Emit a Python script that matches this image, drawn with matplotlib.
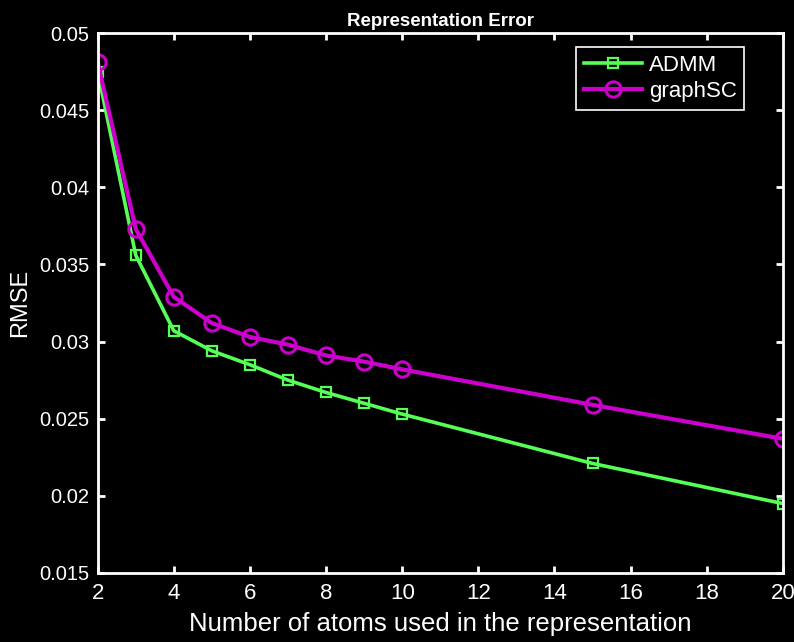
import numpy as np
import matplotlib
matplotlib.use('Agg')
import matplotlib.pyplot as plt

# values
atoms = [2, 3, 4, 5, 6, 7, 8, 9, 10, 15, 20]
rmse_admm = [0.0475, 0.0356, 0.0307, 0.0294, 0.0285, 0.0275, 0.0267, 0.0260, 0.0253, 0.0221, 0.0195]
rmse_graphsc = [0.0481, 0.0373, 0.0329, 0.0312, 0.0303, 0.0298, 0.0291, 0.0287, 0.0282, 0.0259, 0.0237]
x_ticks = [2, 4, 6, 8, 10, 12, 14, 16, 18, 20]
y_ticks = [0.015, 0.02, 0.025, 0.03, 0.035, 0.04, 0.045, 0.05]
y_labels = ['0.015', '0.02', '0.025', '0.03', '0.035', '0.04', '0.045', '0.05']

plt.rcParams['font.family'] = ['Liberation Sans', 'DejaVu Sans']

fig = plt.figure(figsize=(7.94, 6.42), dpi=100, facecolor='black')
ax = fig.add_axes([0.123, 0.1075, 0.863, 0.841])
ax.set_facecolor('black')

ax.plot(atoms, rmse_admm, color='#55ff55', lw=2.6, marker='s', ms=7,
        mfc='none', mew=1.6, label='ADMM')
ax.plot(atoms, rmse_graphsc, color='#cc00cc', lw=3.0, marker='o', ms=11,
        mfc='none', mew=2.2, label='graphSC')

ax.set_xlim(2, 20)
ax.set_ylim(0.015, 0.05)
ax.set_xticks(x_ticks)
ax.set_yticks(y_ticks)
ax.set_yticklabels(y_labels)

for s in ax.spines.values():
    s.set_color('white')
    s.set_linewidth(2)
ax.tick_params(direction='in', colors='white', labelsize=14.5, length=5, width=2,
               top=True, right=True)
ax.tick_params(axis='x', labelsize=16, pad=7)
ax.tick_params(axis='y', pad=6)

ax.set_title('Representation Error', color='white', fontsize=13.5, fontweight='bold', pad=5)
ax.set_xlabel('Number of atoms used in the representation', color='white', fontsize=18.5, labelpad=6)
ax.set_ylabel('RMSE', color='white', fontsize=17, labelpad=6)

leg = ax.legend(loc='upper right', bbox_to_anchor=(0.96, 0.995),
                facecolor='black', edgecolor='white', fancybox=False,
                handlelength=2.6, handletextpad=0.3, borderpad=0.35, labelspacing=0.25,
                framealpha=1, prop={'size': 16})
leg.get_frame().set_linewidth(1.2)
for t in leg.get_texts():
    t.set_color('white')

fig.savefig('out.png', dpi=100, facecolor='black')
